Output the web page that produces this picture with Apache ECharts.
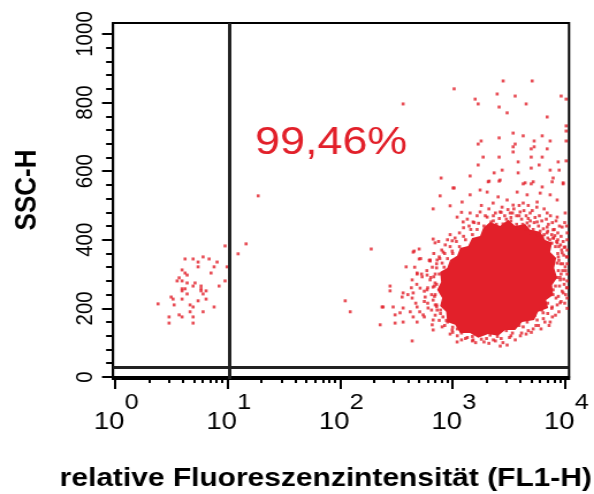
<!DOCTYPE html>
<html><head><meta charset="utf-8">
<script src="https://cdn.jsdelivr.net/npm/echarts@6/dist/echarts.min.js"></script>
<style>
html,body{margin:0;padding:0;background:#fff;overflow:hidden}
#wrap{width:594px;height:494px;overflow:hidden}
#c{width:516px;height:494px;transform:scaleX(1.1512);transform-origin:0 0}
</style></head>
<body><div id="wrap"><div id="c"></div></div>
<script>
// ---- data (FL1-H value, SSC-H value) ----
const majorTicksX = [1, 10, 100, 1000, 10000];
const minorTicksX = [2,3,4,5,6,7,8,9,20,30,40,50,60,70,80,90,200,300,400,500,600,700,800,900,2000,3000,4000,5000,6000,7000,8000,9000];
const majorTicksY = [0, 200, 400, 600, 800, 1000];
const minorTicksY = [40,80,120,160,240,280,320,360,440,480,520,560,640,680,720,760,840,880,920,960];
const gateFL1 = 10.5;
const gateSSC = 29;
const gatePercent = '99,46%';

// dense core outline of the main population
const coreFL1 = [2154,2642,3114,3594,4406,4887,6000,6640,7660,7360,8318,7985,8490,7660,7820,6778,7063,5754,5300,4147,3594,2929,2537,2070,1686,1430,1166,1052,894,875,774,807,728,790,774,894,950,1096,1166,1373,1491,1755,1867];
const coreSSC = [452,440,458,440,446,429,423,399,391,364,347,318,289,268,239,224,201,190,166,160,137,137,120,125,114,128,128,152,160,190,207,230,254,277,306,318,341,353,376,382,405,411,434];

// small population left of the gate
const leftEvents = [[14.6,388],[9.5,382],[12.4,359],[6.06,350],[4.19,344],[4.94,344],[6.85,344],[8.07,335],[5.47,335],[5.47,321],[7.59,321],[9.9,321],[3.94,312],[4.19,303],[7.13,303],[4.37,297],[3.71,289],[3.56,280],[3.94,280],[4.37,274],[5.14,274],[9.5,280],[4.94,265],[8.4,265],[5.81,265],[3.94,257],[4.19,257],[5.81,257],[3.94,251],[5.81,251],[6.44,251],[4.37,242],[6.06,242],[3.15,233],[3.28,227],[3.94,227],[6.44,227],[2.41,213],[3.35,210],[4.64,210],[4.94,204],[5.47,222],[7.59,204],[4.64,190],[6.06,190],[3.71,181],[3.02,175],[3.94,175],[4.94,175],[3.02,157],[4.94,157],[18.7,528]];

// sparse events of the main population (upper region)
const upperEvents = [[2812,863],[5090,863],[1031,840],[363,796],[2487,825],[3594,819],[1585,810],[1686,796],[4500,796],[2590,787],[3050,770],[9210,819],[10200,810],[6920,758],[3450,711],[4236,703],[1792,688],[1686,679],[2590,697],[5300,688],[6250,703],[7360,688],[3594,679],[3450,671],[5300,671],[3450,656],[4990,665],[6920,665],[1867,641],[2590,641],[4990,641],[6250,641],[1686,618],[3822,627],[4990,609],[5870,618],[8670,627],[2755,603],[2338,595],[1430,586],[790,580],[3822,595],[7360,603],[8850,603],[10200,732],[10200,717],[10200,688],[10200,630],[2110,571],[2590,571],[4236,563],[4990,563],[7820,580],[9600,563],[1031,551],
[2070,569],[2642,574],[4406,566],[5200,569],[6250,554],[7660,569],[9600,566],[1010,551],[1755,545],[2027,539],[3744,539],[4592,531],[6000,536],[7360,531],[8490,516],[774,528],[1430,531],[1213,510],[2537,525],[3050,516],[2290,507],[3450,501],[4236,507],[5636,510],[950,499],[671,490],[1430,478],[1755,481],[2027,466],[2642,481],[3245,478],[3981,481],[4887,478],[6920,478],[8490,466],[10000,478],[1096,466],[1240,452],[1520,452],[4592,449],[5636,452],[6920,437],[7820,429],[9400,437]];

// fringe events around the dense core
const fringeEvents = [[111,222],[123,190],[189,373],[236,204],[278,265],[278,251],[296,204],[363,245],[386,321],[455,367],[483,303],[504,373],[504,344],[631,338],
[671,402],[698,391],[446,364],[824,364],[991,397],[991,367],[631,341],[728,341],[807,332],[483,300],[536,292],[593,297],[437,283],[631,283],[698,274],[514,259],[593,254],[446,245],[356,233],[437,230],[570,233],[671,224],[241,204],[363,201],[483,204],[605,201],[728,195],[308,181],[341,187],[446,175],[547,181],[671,166],[308,157],[363,160],[483,160],[658,152],[807,146],[227,152],[437,105],[671,137],[991,137],[1096,102],[1520,108],[2154,122],[3050,93],[3450,146],[4236,146],[5636,166],[7360,160],[6370,187],[7660,204],[9030,216],[9600,245],[7820,254],[9030,283],[10000,321],[8490,332],[10000,379],[9400,362],[8490,391],[10420,420],[7820,405],
[1900,440],[2200,452],[2800,446],[3300,455],[3700,445],[4800,440],[5200,430],[6000,425],[6500,415],[7000,405],[7600,390],[8200,380],[8600,360],[8800,340],[8700,310],[8500,290],[8200,265],[7800,240],[7000,215],[6200,195],[5400,180],[4600,160],[3900,150],[3000,135],[2500,118],[2000,112],[1500,118],[1200,128],[1000,145],[880,165],[780,185],[720,210],[700,240],[720,270],[760,300],[840,320],[900,345],[1000,360],[1150,380],[1300,400],[1500,415],[1650,430],
[10400,300],[10400,350],[10400,260],[10400,400],[10400,230],[9800,270],[9200,300],[9500,330]];

// dense halo events close to the core
const haloEvents = [[1800,500],[1950,470],[2100,490],[2300,455],[2400,478],[2600,462],[2750,495],[2900,470],[3100,488],[3300,465],[3500,490],[3700,470],[3900,500],[4100,460],[4300,485],[4500,470],[4700,500],[4900,455],[5100,485],[5400,465],[5600,495],[5900,470],[6200,455],[6500,490],[6800,460],[7100,445],[7400,470],[7700,450],[8000,430],[8300,455],[8600,420],[8900,440],[9200,410],[9600,395],[9900,450],[10300,440],
[2000,430],[2450,445],[3350,442],[3800,435],[4600,430],[5000,420],[5700,415],[6300,410],[6900,420],[7300,400],[7900,405],[8400,395],[8800,380],[9300,370],[9700,355],
[8700,350],[9100,330],[9500,310],[9000,290],[9700,285],[8900,265],[9400,250],[8700,235],[9200,220],[8500,210],[8800,190],[8200,180],[7700,175],[7200,150],[6600,160],[6100,140],[5500,150],[5000,130],[4500,125],[10400,330],[10400,280],[10400,200],[10400,370],[10100,240],
[4000,120],[3600,108],[3200,115],[2800,100],[2400,105],[2100,98],[1800,110],[1600,100],[1350,115],[1200,108],[1100,120],[950,125],[2650,90],[3400,128],
[850,150],[760,165],[700,180],[650,195],[600,215],[560,220],[700,210],[650,240],[600,260],[560,250],[690,265],[640,290],[590,310],[700,300],[660,320],[620,340],[720,330],[760,350],[680,360],[800,370],[860,385],[750,395],[900,400],[950,415],[1050,405],[1150,420],[1250,435],[1400,440],[1550,450],[1350,460],[1650,470],[1200,480],
[430,260],[480,270],[530,300],[470,215],[510,190],[560,175],[400,240],[460,320],[520,345],[420,190],
[2300,470],[2700,480],[3000,460],[3400,478],[3900,470],[4200,445],[4700,462],[5300,450],[5800,440],[6400,432],[7000,425],[7600,415],[8100,412],[8600,400],[9100,385],[9800,378],[10300,350],[10100,310],[10300,260],[9900,215],
[8300,230],[7600,200],[7000,185],[6400,170],[5800,150],[5200,140],[4700,135],[4100,128],
[1700,448],[1450,430],[1250,410],[1080,395],[950,380],[850,360],[770,345],[720,318],[680,292],[670,262],[690,235],[720,205],[780,195],[820,175],[900,160],[1000,130],[1100,140],[1300,112],[1500,105],[1900,102],[2300,108],[2700,112],[3300,120]];

const RED = '#e2202a';
const FONT = '"Liberation Sans", Arial, sans-serif';

const chart = echarts.init(document.getElementById('c'), null, {renderer: 'canvas'});

const gridBox = {left: 98.2, right: 21.7, top: 23, bottom: 115};

const option = {
  animation: false,
  backgroundColor: '#fff',
  grid: [
    Object.assign({show: true, borderColor: '#000', borderWidth: 2, backgroundColor: 'transparent'}, gridBox),
    Object.assign({show: false}, gridBox)
  ],
  xAxis: [
    {
      gridIndex: 0, type: 'log', logBase: 10, min: 0.96, max: 10830,
      axisLine: {show: true, lineStyle: {color: '#000', width: 2}},
      axisTick: {show: true, customValues: majorTicksX, length: 12, lineStyle: {color: '#000', width: 2}},
      splitLine: {show: false},
      axisLabel: {
        show: true, customValues: majorTicksX, margin: 13,
        formatter: function (v) { return '{b|10}{e|' + Math.round(Math.log10(v)) + '}'; },
        rich: {
          b: {fontSize: 24, fontFamily: FONT, color: '#000', verticalAlign: 'bottom', padding: [0, 0, 0, 2]},
          e: {fontSize: 22, fontFamily: FONT, color: '#000', verticalAlign: 'bottom', padding: [0, 0, 20, 0]}
        }
      }
    },
    {
      gridIndex: 1, type: 'log', logBase: 10, min: 0.96, max: 10830,
      axisLine: {show: false},
      axisTick: {show: true, customValues: minorTicksX, length: 6, lineStyle: {color: '#000', width: 2}},
      axisLabel: {show: false}, splitLine: {show: false}
    }
  ],
  yAxis: [
    {
      gridIndex: 0, type: 'value', min: -6, max: 1032,
      axisLine: {show: true, lineStyle: {color: '#000', width: 2}},
      axisTick: {show: true, customValues: majorTicksY, length: 9.6, lineStyle: {color: '#000', width: 2}},
      splitLine: {show: false},
      axisLabel: {show: true, customValues: majorTicksY, rotate: 90, margin: 13, fontSize: 20.5, fontFamily: FONT, color: '#000',
                  formatter: function (v) { return String(Math.round(v)); }}
    },
    {
      gridIndex: 1, type: 'value', min: -6, max: 1032,
      axisLine: {show: false},
      axisTick: {show: true, customValues: minorTicksY, length: 6, lineStyle: {color: '#000', width: 2}},
      axisLabel: {show: false}, splitLine: {show: false}
    }
  ],
  series: [
    {
      type: 'custom', xAxisIndex: 0, yAxisIndex: 0, silent: true,
      data: coreFL1.map((x, i) => [x, coreSSC[i]]),
      encode: {x: 0, y: 1},
      renderItem: function (params, api) {
        if (params.dataIndex !== 0) return null;
        const pts = coreFL1.map((x, i) => api.coord([x, coreSSC[i]]));
        return {type: 'polygon', shape: {points: pts}, style: {fill: RED}};
      },
      z: 2
    },
    {
      type: 'scatter', xAxisIndex: 0, yAxisIndex: 0, silent: true,
      symbol: 'rect', symbolSize: [2.6, 3],
      itemStyle: {color: RED},
      data: leftEvents.concat(upperEvents, fringeEvents, haloEvents),
      z: 3,
      markLine: {
        silent: true, symbol: 'none', label: {show: false},
        lineStyle: {color: '#222', width: 3, type: 'solid'},
        data: [{xAxis: gateFL1}, {yAxis: gateSSC}]
      }
    }
  ],
  graphic: [
    {type: 'text', left: 221.5, top: 124, z: 10, style: {text: gatePercent, fill: RED, fontSize: 39, fontFamily: FONT}},
    {type: 'text', x: 23.5, y: 190, rotation: Math.PI / 2, z: 10,
     style: {text: 'SSC-H', fill: '#000', fontSize: 26, fontWeight: 'bold', fontFamily: FONT, align: 'center', verticalAlign: 'middle'}},
    {type: 'text', x: 283, y: 479, z: 10,
     style: {text: 'relative Fluoreszenzintensität (FL1-H)', fill: '#000', fontSize: 26, fontWeight: 'bold', fontFamily: FONT, align: 'center', verticalAlign: 'middle'}}
  ]
};
chart.setOption(option);
</script>
</body></html>
